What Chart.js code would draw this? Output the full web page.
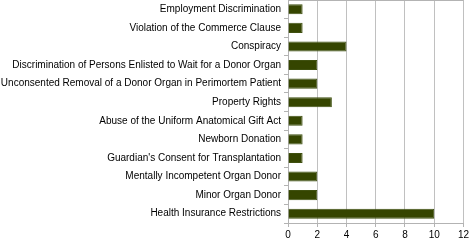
<!DOCTYPE html>
<html><head><meta charset="utf-8">
<script src="https://cdn.jsdelivr.net/npm/chart.js@4/dist/chart.umd.min.js"></script>
<style>html,body{margin:0;padding:0;background:#fff}#wrap{width:471px;height:241px}</style>
</head><body><div id="wrap"><canvas id="c"></canvas></div>
<script>
const categories = [
  "Employment Discrimination",
  "Violation of the Commerce Clause",
  "Conspiracy",
  "Discrimination of Persons Enlisted to Wait for a Donor Organ",
  "Unconsented Removal of a Donor Organ in Perimortem Patient",
  "Property Rights",
  "Abuse of the Uniform Anatomical Gift Act",
  "Newborn Donation",
  "Guardian's Consent for Transplantation",
  "Mentally Incompetent Organ Donor",
  "Minor Organ Donor",
  "Health Insurance Restrictions"
];
const counts = [1, 1, 4, 2, 2, 3, 1, 1, 1, 2, 2, 10];
const xTicks = [0, 2, 4, 6, 8, 10, 12];

const frame = {
  id: 'frame',
  afterDraw(chart) {
    const a = chart.chartArea, ctx = chart.ctx;
    ctx.save();
    ctx.strokeStyle = '#b3b3b3';
    ctx.lineWidth = 1;
    ctx.beginPath();
    ctx.moveTo(a.left, a.top + 0.5);
    ctx.lineTo(a.right, a.top + 0.5);
    ctx.stroke();
    ctx.restore();
  }
};

new Chart(document.getElementById('c'), {
  type: 'bar',
  data: {
    labels: categories,
    datasets: [{
      data: counts,
      backgroundColor: '#354500',
      borderColor: '#3f5010',
      borderWidth: 1,
      barPercentage: 0.54,
      categoryPercentage: 1
    }]
  },
  options: {
    indexAxis: 'y',
    responsive: true,
    maintainAspectRatio: false,
    animation: false,
    layout: { padding: { top: 0, right: 5, bottom: 0, left: 0 } },
    plugins: { legend: { display: false }, tooltip: { enabled: false } },
    scales: {
      x: {
        min: 0, max: 12,
        afterBuildTicks: s => { s.ticks = xTicks.map(v => ({ value: v })); },
        grid: { color: '#c0c0c0', tickColor: '#b3b3b3', tickLength: 4, drawTicks: true },
        border: { display: true, color: '#b3b3b3' },
        ticks: { color: '#000', font: { family: 'Liberation Sans', size: 10 }, padding: 2, maxRotation: 0 },
        afterFit: s => { s.height = 18; }
      },
      y: {
        grid: { drawOnChartArea: false, tickColor: '#b3b3b3', tickLength: 4, offset: true },
        border: { display: true, color: '#b3b3b3' },
        ticks: { color: '#000', font: { family: 'Liberation Sans', size: 10 }, padding: 3, autoSkip: false },
        afterFit: s => { s.width = 288; s.paddingTop = 0; s.paddingBottom = 0; }
      }
    }
  },
  plugins: [frame]
});
</script></body></html>
